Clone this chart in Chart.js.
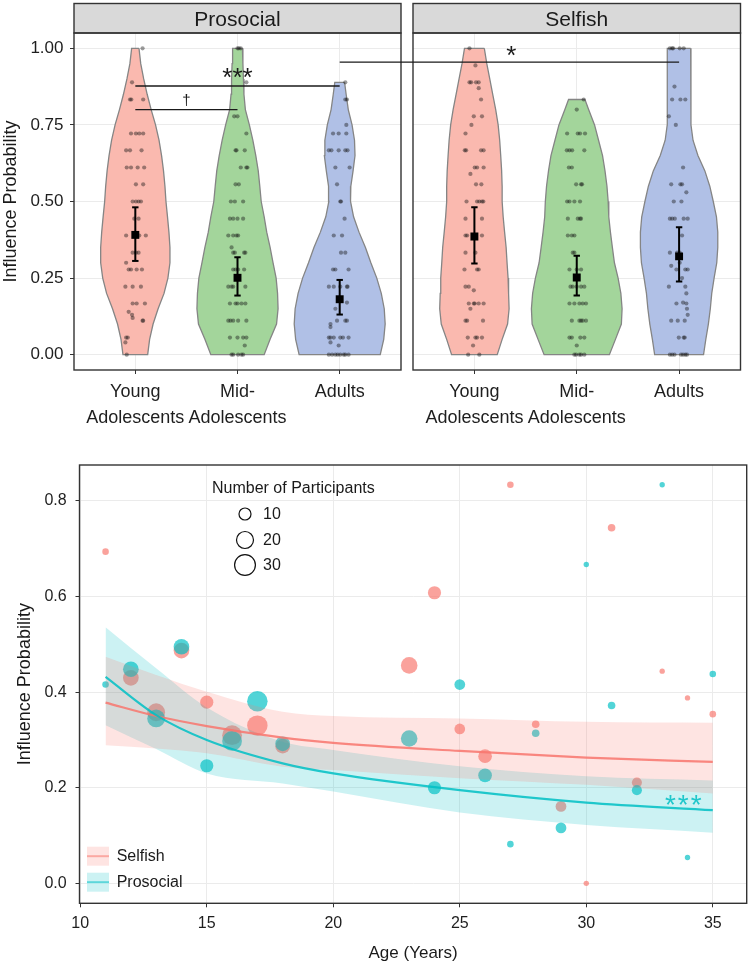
<!DOCTYPE html>
<html>
<head>
<meta charset="utf-8">
<script src="https://cdn.jsdelivr.net/npm/chart.js@4.4.1/dist/chart.umd.min.js"></script>
<style>
html,body{margin:0;padding:0;background:#fff;}
#wrap{position:relative;width:751px;height:967px;overflow:hidden;background:#fff;}
canvas{position:absolute;display:block;}
</style>
</head>
<body>
<div id="wrap">
<canvas id="c1" width="407" height="440" style="left:0;top:0;width:407px;height:440px"></canvas>
<canvas id="c2" width="344" height="440" style="left:407px;top:0;width:344px;height:440px"></canvas>
<canvas id="c3" width="751" height="527" style="left:0;top:440px;width:751px;height:527px"></canvas>
</div>
<script>
// ---------------- DATA: top panels (violins) ----------------
const groupLabels = [['Young','Adolescents'], ['Mid-','Adolescents'], ['Adults']];
const panelNames = ['Prosocial', 'Selfish'];
const probTicks = [0, 0.25, 0.5, 0.75, 1];

// density half-widths (in category units) at probability levels
const levels = [1,0.95,0.9,0.85,0.8,0.75,0.7,0.65,0.6,0.55,0.5,0.45,0.4,0.35,0.3,0.25,0.2,0.15,0.1,0.05,0];
const proYoungW = [0.036,0.053,0.082,0.116,0.155,0.198,0.232,0.257,0.276,0.290,0.300,0.315,0.329,0.339,0.339,0.319,0.281,0.223,0.174,0.140,0.121];
const proMidW   = [0.048,0.053,0.058,0.063,0.077,0.116,0.150,0.179,0.203,0.218,0.232,0.261,0.286,0.319,0.348,0.378,0.392,0.397,0.382,0.319,0.261];
const proAdultLevels = [0.889,0.85,0.8,0.75,0.7,0.65,0.6,0.55,0.5,0.45,0.4,0.35,0.3,0.25,0.2,0.15,0.1,0.05,0];
const proAdultW = [0.048,0.063,0.084,0.121,0.145,0.150,0.131,0.109,0.106,0.136,0.189,0.252,0.305,0.363,0.407,0.436,0.445,0.431,0.397];
const selYoungW = [0.097,0.121,0.150,0.179,0.208,0.232,0.247,0.257,0.266,0.271,0.271,0.281,0.295,0.310,0.319,0.329,0.334,0.339,0.324,0.271,0.223];
const selMidLevels = [0.833,0.8,0.75,0.7,0.65,0.6,0.55,0.5,0.45,0.4,0.35,0.3,0.25,0.2,0.15,0.1,0.05,0];
const selMidW   = [0.080,0.116,0.174,0.213,0.252,0.276,0.295,0.307,0.313,0.329,0.348,0.368,0.404,0.431,0.443,0.436,0.378,0.319];
const selAdultW = [0.113,0.116,0.116,0.116,0.116,0.116,0.136,0.184,0.252,0.300,0.334,0.365,0.378,0.378,0.368,0.342,0.319,0.305,0.286,0.261,0.239];

// individual participants: [probability, horizontal jitter]
const proYoungPts = [[1,0.071],[0.889,-0.032],[0.833,-0.052],[0.833,-0.039],[0.833,0.077],[0.722,-0.042],[0.722,0.006],[0.722,0.039],[0.722,0.077],[0.667,-0.090],[0.667,-0.052],[0.667,0.061],[0.611,-0.084],[0.611,-0.042],[0.611,0.023],[0.611,0.087],[0.556,0.006],[0.556,0.077],[0.5,-0.026],[0.5,0.006],[0.5,0.032],[0.5,0.055],[0.444,-0.010],[0.444,0.032],[0.389,-0.090],[0.389,0.039],[0.389,0.103],[0.333,-0.026],[0.333,0.006],[0.333,0.032],[0.3,-0.090],[0.278,-0.065],[0.278,-0.042],[0.278,0.013],[0.278,0.065],[0.222,-0.097],[0.222,-0.026],[0.222,0.055],[0.167,-0.026],[0.167,0.013],[0.167,0.094],[0.14,-0.065],[0.13,-0.032],[0.12,-0.026],[0.111,0.071],[0.111,0.077],[0.056,-0.090],[0.056,-0.074],[0.04,-0.097],[0,-0.084]];
const proMidPts = [[1,0],[1,0.013],[1,0.032],[0.889,0.087],[0.778,-0.032],[0.778,0],[0.722,0.087],[0.667,-0.019],[0.667,-0.010],[0.667,0.071],[0.611,0.032],[0.611,0.087],[0.611,0.097],[0.556,-0.019],[0.556,0.013],[0.5,-0.065],[0.5,-0.026],[0.5,0.055],[0.444,-0.074],[0.444,-0.042],[0.444,0],[0.444,0.055],[0.389,-0.090],[0.389,-0.042],[0.389,-0.010],[0.389,0.006],[0.35,-0.058],[0.333,-0.042],[0.333,-0.026],[0.333,0.065],[0.333,0.077],[0.278,-0.042],[0.278,-0.019],[0.278,0.006],[0.278,0.065],[0.222,-0.090],[0.222,-0.058],[0.222,-0.042],[0.222,0.077],[0.167,-0.074],[0.167,-0.019],[0.167,0],[0.167,0.039],[0.167,0.077],[0.111,-0.090],[0.111,-0.068],[0.111,-0.042],[0.111,0.006],[0.111,0.087],[0.056,-0.074],[0.056,0],[0.056,0.055],[0.056,0.087],[0.03,0.071],[0,-0.058],[0,-0.042],[0,0.006],[0,0.039],[0,0.055]];
const proAdultPts = [[0.889,0.055],[0.833,0.055],[0.833,0.071],[0.75,0.065],[0.722,-0.065],[0.722,-0.010],[0.722,0.065],[0.667,-0.106],[0.667,-0.081],[0.667,-0.010],[0.667,0.055],[0.667,0.077],[0.611,-0.042],[0.611,0.097],[0.556,-0.026],[0.5,0.006],[0.5,0.013],[0.444,0.048],[0.389,-0.058],[0.389,0.023],[0.333,0.013],[0.333,0.055],[0.278,-0.065],[0.278,-0.042],[0.278,0.087],[0.222,-0.106],[0.222,-0.058],[0.222,0.006],[0.222,0.071],[0.222,0.077],[0.17,0.071],[0.15,-0.042],[0.111,-0.026],[0.111,0.055],[0.111,0.071],[0.1,-0.090],[0.09,-0.090],[0.056,-0.106],[0.056,-0.090],[0.056,-0.058],[0.056,0.006],[0.056,0.032],[0.056,0.087],[0.04,-0.090],[0.03,-0.010],[0,-0.106],[0,-0.074],[0,-0.042],[0,-0.019],[0,0.006],[0,0.039],[0,0.055],[0,0.087]];
const selYoungPts = [[1,-0.048],[0.944,0.010],[0.889,-0.048],[0.889,-0.032],[0.889,0.016],[0.889,0.042],[0.87,0.042],[0.833,0.065],[0.778,-0.006],[0.778,0.074],[0.75,-0.029],[0.722,-0.087],[0.667,-0.094],[0.667,-0.081],[0.667,0.065],[0.667,0.090],[0.611,0.003],[0.611,0.026],[0.611,0.090],[0.59,-0.039],[0.556,0.016],[0.556,0.068],[0.5,-0.077],[0.5,0.026],[0.5,0.048],[0.5,0.074],[0.5,0.087],[0.444,-0.087],[0.444,0.074],[0.389,-0.087],[0.389,-0.071],[0.389,0.074],[0.333,-0.087],[0.333,0.010],[0.278,-0.097],[0.278,0.026],[0.278,0.042],[0.222,-0.087],[0.222,-0.055],[0.21,-0.006],[0.167,-0.055],[0.167,-0.006],[0.167,0.003],[0.167,0.042],[0.167,0.090],[0.15,-0.039],[0.111,-0.087],[0.111,-0.071],[0.111,0.084],[0.056,-0.065],[0.056,0.010],[0.056,0.026],[0.056,0.074],[0.03,-0.013],[0,-0.061],[0,0.048]];
const selMidPts = [[0.833,0.068],[0.8,0],[0.722,-0.094],[0.722,0.010],[0.722,0.032],[0.722,0.081],[0.667,-0.097],[0.667,-0.071],[0.667,-0.045],[0.667,0.074],[0.611,-0.077],[0.611,-0.048],[0.556,-0.006],[0.556,0.042],[0.556,0.052],[0.5,-0.094],[0.5,-0.071],[0.5,-0.023],[0.5,0.032],[0.444,-0.087],[0.444,0.010],[0.444,0.032],[0.444,0.042],[0.389,-0.087],[0.389,-0.048],[0.389,-0.023],[0.333,-0.039],[0.333,-0.023],[0.278,-0.071],[0.278,0],[0.278,0.042],[0.222,-0.061],[0.222,-0.039],[0.222,0],[0.222,0.042],[0.222,0.074],[0.167,-0.071],[0.167,-0.023],[0.167,0.026],[0.167,0.058],[0.167,0.090],[0.111,-0.048],[0.111,0.026],[0.111,0.042],[0.111,0.058],[0.111,0.090],[0.056,-0.071],[0.056,-0.048],[0.056,0.035],[0.056,0.074],[0.03,0],[0,-0.023],[0,-0.006],[0,0.026],[0,0.042],[0,0.074]];
const selAdultPts = [[1,-0.090],[1,-0.068],[1,-0.058],[1,0.006],[1,0.045],[0.875,-0.045],[0.833,-0.068],[0.833,0.013],[0.833,0.061],[0.778,-0.100],[0.75,-0.032],[0.611,0.039],[0.556,-0.077],[0.556,0.013],[0.556,0.029],[0.53,0.071],[0.5,-0.052],[0.5,0.023],[0.444,-0.090],[0.444,-0.068],[0.444,-0.042],[0.444,0.045],[0.444,0.084],[0.389,0.029],[0.333,-0.090],[0.333,-0.019],[0.333,0.006],[0.3,0.006],[0.29,-0.077],[0.278,-0.026],[0.278,0.061],[0.278,0.084],[0.25,0.029],[0.222,-0.100],[0.222,0.061],[0.2,0.071],[0.17,0.039],[0.167,-0.026],[0.167,0.071],[0.15,0.077],[0.13,0.084],[0.111,-0.077],[0.111,-0.013],[0.111,0.055],[0.056,-0.003],[0.056,0.045],[0.056,0.055],[0,-0.090],[0,-0.068],[0,-0.045],[0,0.019],[0,0.039],[0,0.061],[0,0.077]];

// group means with confidence intervals
const proMean = [0.391, 0.251, 0.181];
const proLow  = [0.306, 0.193, 0.131];
const proHigh = [0.481, 0.318, 0.244];
const selMean = [0.386, 0.252, 0.321];
const selLow  = [0.298, 0.193, 0.239];
const selHigh = [0.481, 0.323, 0.416];

// significance brackets
const proBrackets = [
  {from: 1, to: 3, y: 0.877, label: '***'},
  {from: 1, to: 2, y: 0.80,  label: '\u2020'}
];
const crossBracket = {group: 3, y: 0.955, label: '*'};

// ---------------- DATA: bottom panel ----------------
const ages = [11,12,13,14,15,16,17,18,23,24,25,26,27,28,29,30,31,32,33,34,35];
const nParticipants = [3,17,22,17,12,27,29,15,19,12,8,13,3,4,8,2,4,7,2,2,3];
const selfishProb   = [0.694,0.430,0.358,0.487,0.379,0.310,0.330,0.287,0.456,0.608,0.323,0.266,0.834,0.333,0.161,0.0,0.744,0.211,0.444,0.388,0.354];
const prosocialProb = [0.416,0.448,0.345,0.495,0.246,0.298,0.381,0.292,0.303,0.200,0.416,0.226,0.082,0.314,0.116,0.667,0.372,0.195,0.834,0.054,0.438];
const fitAges       = [11,13,15,18,20,25,30,35];
const selfishFit    = [0.378,0.350,0.329,0.305,0.294,0.277,0.263,0.254];
const selfishLow    = [0.289,0.282,0.272,0.244,0.237,0.220,0.206,0.188];
const selfishHigh   = [0.474,0.436,0.401,0.359,0.350,0.345,0.338,0.336];
const prosocialFit  = [0.432,0.352,0.300,0.251,0.230,0.195,0.169,0.153];
const prosocialLow  = [0.331,0.281,0.230,0.209,0.192,0.148,0.122,0.106];
const prosocialHigh = [0.536,0.450,0.368,0.296,0.279,0.245,0.224,0.215];
const sizeLegend = [10, 20, 30];
const ageTicks = [10, 15, 20, 25, 30, 35];
const bottomProbTicks = [0, 0.2, 0.4, 0.6, 0.8];

// ---------------- STYLE ----------------
const FONT = "'Liberation Sans', Arial, Helvetica, sans-serif";
Chart.defaults.font.family = FONT;
Chart.defaults.color = '#1e1e1e';
Chart.defaults.animation = false;
const violinColors = ['#FAB9AF', '#A3D59B', '#B0C0E6'];
const PINK = '#F8766D', TEAL = '#00BFC4';
const rgba = (hex, a) => {
  const n = parseInt(hex.slice(1), 16);
  return `rgba(${n >> 16},${(n >> 8) & 255},${n & 255},${a})`;
};
const bubbleRadius = n => 1.9 * Math.sqrt(n);

function violinPolygon(center, lv, hw) {
  const right = lv.map((y, i) => ({x: center + hw[i], y}));
  const left = lv.map((y, i) => ({x: center - hw[i], y})).reverse();
  return right.concat(left, [right[0]]);
}

function topDatasets(violins, pts, mean, lo, hi) {
  const ds = [];
  violins.forEach((v, g) => {
    ds.push({type: 'line', data: violinPolygon(g + 1, v[0], v[1]), fill: 'shape',
      backgroundColor: violinColors[g], borderColor: '#858585', borderWidth: 1.3,
      pointRadius: 0, tension: 0, order: 5});
  });
  pts.forEach((p, g) => {
    ds.push({type: 'line', showLine: false, data: p.map(([v, o]) => ({x: g + 1 + o, y: v})),
      pointRadius: 2.1, pointBackgroundColor: 'rgba(20,20,20,0.42)', pointBorderWidth: 0, order: 4});
  });
  mean.forEach((m, g) => {
    ds.push({type: 'line', data: [{x: g + 1, y: lo[g]}, {x: g + 1, y: hi[g]}],
      borderColor: '#000', borderWidth: 2, pointStyle: 'line', pointRadius: 3.2,
      pointBorderColor: '#000', pointBorderWidth: 2, order: 2});
  });
  ds.push({type: 'line', showLine: false, data: mean.map((m, g) => ({x: g + 1, y: m})),
    pointStyle: 'rect', pointRadius: 5.6, pointBackgroundColor: '#000', pointBorderWidth: 0, order: 1});
  return ds;
}

function stripAndBorder(chart, name) {
  const {ctx, chartArea: a} = chart;
  ctx.save();
  ctx.fillStyle = '#D9D9D9';
  ctx.fillRect(a.left, 3.5, a.right - a.left, a.top - 3.5);
  ctx.strokeStyle = '#333'; ctx.lineWidth = 1.4;
  ctx.strokeRect(a.left, 3.5, a.right - a.left, a.top - 3.5);
  ctx.strokeRect(a.left, a.top, a.right - a.left, a.bottom - a.top);
  ctx.fillStyle = '#1a1a1a';
  ctx.font = `21px ${FONT}`;
  ctx.textAlign = 'center'; ctx.textBaseline = 'alphabetic';
  ctx.fillText(name, (a.left + a.right) / 2, 25.5);
  ctx.restore();
}

function topOptions(showY, padLeft, padRight) {
  return {
    responsive: false, indexAxis: 'y',
    layout: {padding: {top: 33, left: padLeft, right: padRight, bottom: 0}},
    plugins: {legend: {display: false}, tooltip: {enabled: false}},
    scales: {
      x: {type: 'linear', min: 0.4, max: 3.6,
        afterBuildTicks: s => { s.ticks = [1, 2, 3].map(v => ({value: v})); },
        afterFit: s => { s.height = 70; },
        grid: {color: '#EBEBEB', lineWidth: 1, tickColor: '#333', tickLength: 4, drawTicks: true},
        border: {display: false},
        ticks: {autoSkip: false, maxRotation: 0, padding: 5, color: '#1e1e1e',
          font: {size: 18, lineHeight: 1.45}, callback: v => groupLabels[Math.round(v) - 1]}
      },
      y: {type: 'linear', min: -0.05, max: 1.05,
        afterBuildTicks: s => { s.ticks = probTicks.map(v => ({value: v})); },
        afterFit: s => { s.width = showY ? 74 : 0; },
        grid: {color: '#EBEBEB', lineWidth: 1, tickColor: '#333', tickLength: 4, drawTicks: showY},
        border: {display: false},
        ticks: {display: showY, padding: 6.5, color: '#1e1e1e', font: {size: 17}, callback: v => Number(v).toFixed(2)},
        title: {display: showY, text: 'Influence Probability', font: {size: 18}, color: '#1a1a1a', padding: {top: 0, bottom: 0}}
      }
    }
  };
}

let chart1 = null;
const c1Canvas = document.getElementById('c1');
const c2Canvas = document.getElementById('c2');

chart1 = new Chart(c1Canvas, {
  type: 'line',
  data: {datasets: topDatasets(
    [[levels, proYoungW], [levels, proMidW], [proAdultLevels, proAdultW]],
    [proYoungPts, proMidPts, proAdultPts], proMean, proLow, proHigh)},
  options: topOptions(true, 0, 4),
  plugins: [{
    id: 'panelLeft',
    afterDraw(chart) {
      stripAndBorder(chart, panelNames[0]);
      const {ctx, scales: {x, y}} = chart;
      ctx.save();
      ctx.strokeStyle = '#1a1a1a'; ctx.lineWidth = 1.3;
      ctx.fillStyle = '#1a1a1a'; ctx.textAlign = 'center'; ctx.textBaseline = 'alphabetic';
      proBrackets.forEach(b => {
        const py = y.getPixelForValue(b.y);
        ctx.beginPath();
        ctx.moveTo(x.getPixelForValue(b.from), py);
        ctx.lineTo(x.getPixelForValue(b.to), py);
        ctx.stroke();
        const mid = x.getPixelForValue((b.from + b.to) / 2);
        if (b.label === '***') { ctx.font = `26px ${FONT}`; ctx.fillText(b.label, mid, py); }
        else { ctx.font = `15px ${FONT}`; ctx.fillText(b.label, mid, py - 5); }
      });
      const cy = y.getPixelForValue(crossBracket.y);
      ctx.beginPath();
      ctx.moveTo(x.getPixelForValue(crossBracket.group), cy);
      ctx.lineTo(chart.width, cy);
      ctx.stroke();
      ctx.restore();
    }
  }]
});

new Chart(c2Canvas, {
  type: 'line',
  data: {datasets: topDatasets(
    [[levels, selYoungW], [selMidLevels, selMidW], [levels, selAdultW]],
    [selYoungPts, selMidPts, selAdultPts], selMean, selLow, selHigh)},
  options: topOptions(false, 3, 10.5),
  plugins: [{
    id: 'panelRight',
    afterDraw(chart) {
      stripAndBorder(chart, panelNames[1]);
      const {ctx, scales: {x, y}} = chart;
      const cy = y.getPixelForValue(crossBracket.y);
      const endX = x.getPixelForValue(crossBracket.group);
      const offset = parseFloat(c2Canvas.style.left) - parseFloat(c1Canvas.style.left);
      const startPage = chart1.scales.x.getPixelForValue(crossBracket.group) - offset;
      ctx.save();
      ctx.strokeStyle = '#1a1a1a'; ctx.lineWidth = 1.3;
      ctx.beginPath(); ctx.moveTo(0, cy); ctx.lineTo(endX, cy); ctx.stroke();
      ctx.fillStyle = '#1a1a1a'; ctx.font = `26px ${FONT}`;
      ctx.textAlign = 'center'; ctx.textBaseline = 'alphabetic';
      ctx.fillText(crossBracket.label, (startPage + endX) / 2 + 2, cy + 2);
      ctx.restore();
    }
  }]
});

// ---------------- bottom chart ----------------
const pts = vals => ages.map((a, i) => ({x: a, y: vals[i]}));
const fitPts = vals => fitAges.map((a, i) => ({x: a, y: vals[i]}));
const radiusFn = ctx => bubbleRadius(nParticipants[ctx.dataIndex]);

new Chart(document.getElementById('c3'), {
  type: 'line',
  data: {datasets: [
    {label: 'SelfishPts', showLine: false, data: pts(selfishProb), pointRadius: radiusFn,
      pointBackgroundColor: rgba(PINK, 0.68), pointBorderWidth: 0, order: 6},
    {label: 'ProsocialPts', showLine: false, data: pts(prosocialProb), pointRadius: radiusFn,
      pointBackgroundColor: rgba(TEAL, 0.68), pointBorderWidth: 0, order: 5},
    {label: 'ProHigh', data: fitPts(prosocialHigh), fill: 3, backgroundColor: rgba(TEAL, 0.2),
      borderWidth: 0, pointRadius: 0, cubicInterpolationMode: 'monotone', order: 4},
    {label: 'ProLow', data: fitPts(prosocialLow), fill: false, borderWidth: 0, pointRadius: 0,
      cubicInterpolationMode: 'monotone', order: 4},
    {label: 'SelHigh', data: fitPts(selfishHigh), fill: 5, backgroundColor: rgba(PINK, 0.2),
      borderWidth: 0, pointRadius: 0, cubicInterpolationMode: 'monotone', order: 3},
    {label: 'SelLow', data: fitPts(selfishLow), fill: false, borderWidth: 0, pointRadius: 0,
      cubicInterpolationMode: 'monotone', order: 3},
    {label: 'Selfish', data: fitPts(selfishFit), borderColor: rgba(PINK, 0.85), borderWidth: 2.2,
      pointRadius: 0, cubicInterpolationMode: 'monotone', order: 2},
    {label: 'Prosocial', data: fitPts(prosocialFit), borderColor: rgba(TEAL, 0.85), borderWidth: 2.2,
      pointRadius: 0, cubicInterpolationMode: 'monotone', order: 1}
  ]},
  options: {
    responsive: false,
    layout: {padding: {top: 25, left: 0, right: 4.3, bottom: 0}},
    plugins: {legend: {display: false}, tooltip: {enabled: false}},
    scales: {
      x: {type: 'linear', min: 9.97, max: 36.34,
        afterBuildTicks: s => { s.ticks = ageTicks.map(v => ({value: v})); },
        afterFit: s => { s.height = 63.7; },
        grid: {color: '#EBEBEB', tickColor: '#333', tickLength: 4},
        border: {display: false},
        ticks: {padding: 6.4, font: {size: 16}, color: '#1e1e1e', maxRotation: 0, autoSkip: false},
        title: {display: true, text: 'Age (Years)', font: {size: 17}, color: '#1a1a1a', padding: {top: 0, bottom: 3.5}}
      },
      y: {type: 'linear', min: -0.0418, max: 0.8753,
        afterBuildTicks: s => { s.ticks = bottomProbTicks.map(v => ({value: v})); },
        afterFit: s => { s.width = 79.5; },
        grid: {color: '#EBEBEB', tickColor: '#333', tickLength: 4},
        border: {display: false},
        ticks: {padding: 8.8, font: {size: 16}, color: '#1e1e1e', callback: v => Number(v).toFixed(1)},
        title: {display: true, text: 'Influence Probability', font: {size: 18}, color: '#1a1a1a', padding: {top: 14.2, bottom: 0}}
      }
    }
  },
  plugins: [{
    id: 'bottomDecor',
    afterDraw(chart) {
      const {ctx, chartArea: a} = chart;
      ctx.save();
      ctx.strokeStyle = '#333'; ctx.lineWidth = 1.4;
      ctx.strokeRect(a.left, a.top, a.right - a.left, a.bottom - a.top);
      // size legend
      ctx.fillStyle = '#1a1a1a';
      ctx.font = `16px ${FONT}`; ctx.textAlign = 'left'; ctx.textBaseline = 'middle';
      ctx.fillText('Number of Participants', 212, 49);
      const rows = [74, 100, 125];
      sizeLegend.forEach((n, i) => {
        ctx.beginPath(); ctx.lineWidth = 1.2; ctx.strokeStyle = '#111';
        ctx.arc(245, rows[i], bubbleRadius(n), 0, Math.PI * 2); ctx.stroke();
        ctx.fillText(String(n), 263, rows[i] + 1);
      });
      // fill legend
      const keys = [{name: 'Selfish', c: PINK, top: 406.7}, {name: 'Prosocial', c: TEAL, top: 432.7}];
      keys.forEach(k => {
        ctx.fillStyle = '#fff'; ctx.fillRect(87, k.top, 22, 19);
        ctx.fillStyle = rgba(k.c, 0.2); ctx.fillRect(87, k.top, 22, 19);
        ctx.strokeStyle = rgba(k.c, 0.55); ctx.lineWidth = 2;
        ctx.beginPath(); ctx.moveTo(87, k.top + 9.5); ctx.lineTo(109, k.top + 9.5); ctx.stroke();
        ctx.fillStyle = '#1a1a1a';
        ctx.fillText(k.name, 116.7, k.top + 9.5);
      });
      // significance of prosocial age effect
      ctx.fillStyle = rgba(TEAL, 0.85);
      ctx.font = `28px ${FONT}`; ctx.textAlign = 'center'; ctx.textBaseline = 'alphabetic';
      try { ctx.letterSpacing = '2px'; } catch (e) {}
      ctx.fillText('***', 684.3, 374.4);
      ctx.restore();
    }
  }]
});
</script>
</body>
</html>
